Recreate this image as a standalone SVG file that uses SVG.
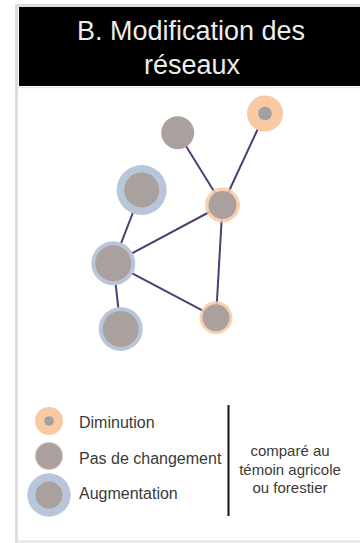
<svg xmlns="http://www.w3.org/2000/svg" width="360" height="543" viewBox="0 0 360 543">
  <style>
    .title { font-family: "Liberation Sans", Arial, sans-serif; font-size: 27px; fill: #ececec; text-anchor: middle; }
    .label { font-family: "Liberation Sans", Arial, sans-serif; font-size: 16px; fill: #3a3a3a; }
    .note { font-family: "Liberation Sans", Arial, sans-serif; font-size: 15px; fill: #3a3a3a; text-anchor: middle; }
    .core { fill: #aaa19f; }
    .dec { fill: #f9c9a2; }
    .inc { fill: #b8c6d9; }
    .edge { stroke: #4b3f75; stroke-width: 2; stroke-linecap: round; fill: none; }
  </style>

  <!-- panel frame -->
  <rect x="0" y="0" width="360" height="543" fill="#ffffff"/>
  <path d="M16.5 543 V5.5 H360" fill="none" stroke="#dcdcdc" stroke-width="3"/>
  <line x1="16" y1="541.5" x2="360" y2="541.5" stroke="#e2e2e2" stroke-width="2"/>
  <line x1="18" y1="87.5" x2="360" y2="87.5" stroke="#e6e6e6" stroke-width="1.5"/>

  <!-- header -->
  <g id="header">
    <rect x="19" y="7" width="341" height="79" fill="#000000"/>
    <text class="title" x="191" y="40">B. Modification des</text>
    <text class="title" x="192" y="74">réseaux</text>
  </g>

  <!-- links -->
  <g id="connectors">
    <line class="edge" x1="177.7" y1="132.7" x2="222.5" y2="205"/>
    <line class="edge" x1="265" y1="113.5" x2="222.5" y2="205"/>
    <line class="edge" x1="222.5" y1="205" x2="113.3" y2="263.3"/>
    <line class="edge" x1="222.5" y1="205" x2="216" y2="317.7"/>
    <line class="edge" x1="141.7" y1="190" x2="113.3" y2="263.3"/>
    <line class="edge" x1="113.3" y1="263.3" x2="216" y2="317.7"/>
    <line class="edge" x1="113.3" y1="263.3" x2="120.7" y2="329"/>
  </g>

  <!-- network nodes -->
  <g id="node-top">
    <circle class="core" cx="177.7" cy="132.7" r="16.5"/>
  </g>
  <g id="node-top-right">
    <circle class="dec" cx="265" cy="113.5" r="18"/>
    <circle cx="265" cy="113.5" r="6.8" fill="#9ea1a5"/>
  </g>
  <g id="node-mid-right">
    <circle class="dec" cx="222.5" cy="205" r="17.5" opacity="0.85"/>
    <circle class="core" cx="222.5" cy="205" r="14"/>
  </g>
  <g id="node-upper-left">
    <circle class="inc" cx="141.7" cy="190" r="25"/>
    <circle class="core" cx="141.7" cy="190" r="17.5"/>
  </g>
  <g id="node-mid-left">
    <circle class="inc" cx="113.3" cy="263.3" r="22"/>
    <circle class="core" cx="113.3" cy="263.3" r="18"/>
  </g>
  <g id="node-bottom-right">
    <circle class="dec" cx="216" cy="317.7" r="16.5" opacity="0.85"/>
    <circle class="core" cx="216" cy="317.7" r="13.5"/>
  </g>
  <g id="node-bottom-left">
    <circle class="inc" cx="120.7" cy="329" r="22"/>
    <circle class="core" cx="120.7" cy="329" r="18"/>
  </g>

  <!-- legend -->
  <g id="legend-diminution">
    <circle class="dec" cx="49" cy="421" r="14"/>
    <circle cx="49" cy="421" r="4.8" fill="#9ea1a5"/>
    <text class="label" x="79" y="428">Diminution</text>
  </g>
  <g id="legend-stable">
    <circle cx="49" cy="456" r="14" fill="#d9c4b8"/>
    <circle class="core" cx="49" cy="456" r="13"/>
    <text class="label" x="79" y="464">Pas de changement</text>
  </g>
  <g id="legend-augmentation">
    <circle class="inc" cx="49" cy="495" r="21.7"/>
    <circle class="core" cx="49" cy="495" r="13.5"/>
    <text class="label" x="79" y="499">Augmentation</text>
  </g>
  <line x1="228.5" y1="405" x2="228.5" y2="516" stroke="#111111" stroke-width="2"/>
  <g id="legend-note">
    <text class="note" x="290" y="456">comparé au</text>
    <text class="note" x="290" y="474.5">témoin agricole</text>
    <text class="note" x="290" y="493">ou forestier</text>
  </g>
</svg>
